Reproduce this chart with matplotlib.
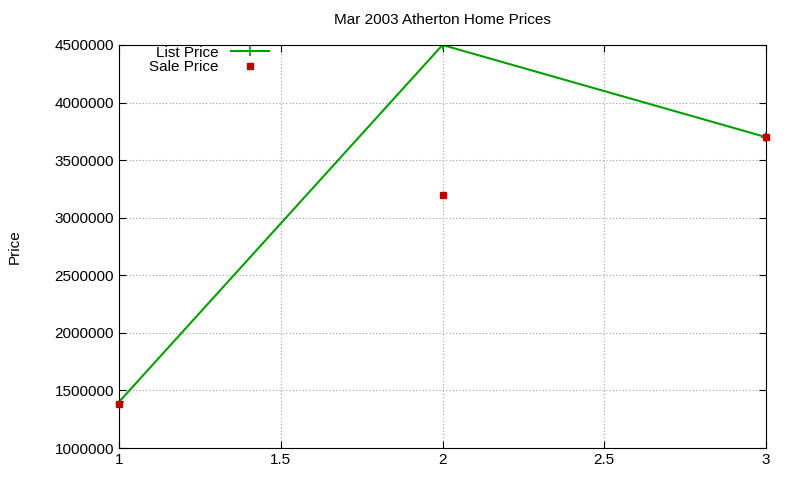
import matplotlib
matplotlib.use("Agg")
import matplotlib.pyplot as plt

plt.rcParams['font.family'] = ['Liberation Sans', 'DejaVu Sans']
x = [1, 2, 3]
list_price = [1400000, 4500000, 3700000]
sale_price = [1380000, 3200000, 3700000]
yticks = [1000000, 1500000, 2000000, 2500000, 3000000, 3500000, 4000000, 4500000]
xticks = [1, 1.5, 2, 2.5, 3]

fig = plt.figure(figsize=(8, 4.8), dpi=100)
ax = fig.add_axes([119/800, 1-448/480, (766-119)/800, (448-45)/480])
ax.plot(x, list_price, color='#00a000', lw=1.5, marker='+', ms=7, mew=1.2, label='List Price')
ax.plot(x, sale_price, ls='none', marker='s', ms=5, color='#c00000', label='Sale Price', clip_on=False, zorder=5)
ax.set_xlim(1, 3)
ax.set_ylim(1000000, 4500000)
ax.set_xticks(xticks)
ax.set_xticklabels(['1', '1.5', '2', '2.5', '3'])
ax.set_yticks(yticks)
ax.set_yticklabels([str(v) for v in yticks])
ax.tick_params(direction='in', top=True, right=True, labelsize=11, length=5)
ax.grid(True, color='#a0a0a0', ls=(0, (1, 2)), lw=0.8)
for s in ax.spines.values():
    s.set_linewidth(0.8)
ax.set_title('Mar 2003 Atherton Home Prices', fontsize=11, pad=15)
ax.set_ylabel('Price', fontsize=11, labelpad=24)
ax.legend(loc='upper left', markerfirst=False, frameon=False, fontsize=11,
          bbox_to_anchor=(0.03, 1.025), handlelength=2.5, labelspacing=0.05, borderpad=0.2)
fig.savefig('out.png', dpi=100)
